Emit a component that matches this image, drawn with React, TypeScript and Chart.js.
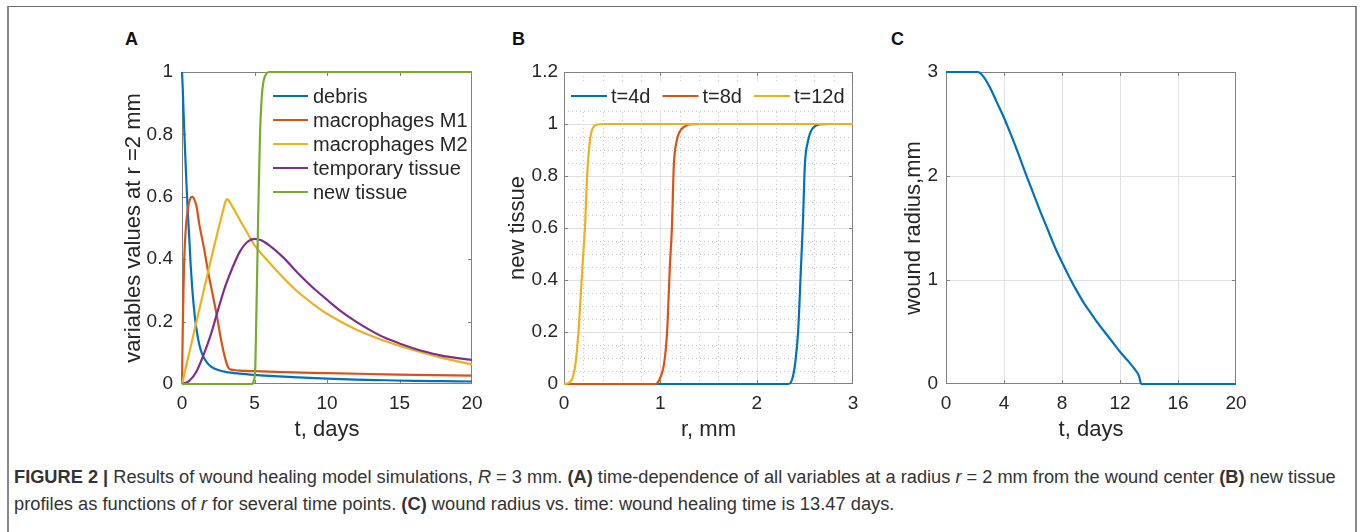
import React, { useEffect, useRef } from 'react';
import { Chart, registerables } from 'chart.js';

Chart.register(...registerables);

const FONT = '"Liberation Sans", Arial, Helvetica, sans-serif';
const TEXT_COLOR = '#262626';
const AXIS_COLOR = '#808080';

const BLUE = '#0072BD';
const ORANGE = '#D95319';
const YELLOW = '#EDB120';
const PURPLE = '#7E2F8E';
const GREEN = '#77AC30';

// ---------- Panel A: variables at r = 2 mm ----------
const A_LABELS = ['debris', 'macrophages M1', 'macrophages M2', 'temporary tissue', 'new tissue'];
const tDebris = [0, 0.05, 0.1, 0.2, 0.3, 0.4, 0.5, 0.6, 0.7, 0.8, 0.9, 1.0, 1.2, 1.4, 1.7, 2.0, 2.5, 3.0, 4.0, 5.0, 6.0, 8.0, 10, 12, 14, 16, 18, 20];
const debris = [1.0, 0.95, 0.88, 0.76, 0.65, 0.55, 0.47, 0.38, 0.31, 0.255, 0.21, 0.175, 0.125, 0.095, 0.07, 0.056, 0.045, 0.039, 0.033, 0.029, 0.026, 0.021, 0.017, 0.014, 0.012, 0.010, 0.009, 0.008];
const tM1 = [0, 0.05, 0.1, 0.15, 0.2, 0.3, 0.4, 0.5, 0.6, 0.7, 0.8, 0.9, 1.0, 1.2, 1.5, 1.8, 2.1, 2.4, 2.7, 3.0, 3.2, 3.4, 3.7, 4, 5, 7, 10, 13, 16, 20];
const m1 = [0, 0.17, 0.3, 0.39, 0.45, 0.52, 0.56, 0.585, 0.597, 0.6, 0.597, 0.585, 0.57, 0.51, 0.44, 0.36, 0.29, 0.22, 0.14, 0.078, 0.052, 0.046, 0.044, 0.043, 0.041, 0.038, 0.035, 0.032, 0.029, 0.027];
const tM2 = [0, 0.5, 1, 1.5, 2, 2.5, 2.8, 3.0, 3.1, 3.2, 3.4, 3.7, 4, 4.5, 5, 6, 7, 8, 9, 10, 12, 14, 16, 18, 20];
const m2 = [0, 0.1, 0.2, 0.3, 0.4, 0.495, 0.55, 0.585, 0.593, 0.59, 0.575, 0.55, 0.525, 0.485, 0.445, 0.39, 0.34, 0.295, 0.258, 0.225, 0.175, 0.138, 0.108, 0.083, 0.063];
const tTemp = [0, 0.5, 1, 1.5, 2, 2.5, 3, 3.5, 4, 4.5, 5, 5.5, 6, 7, 8, 9, 10, 11, 12, 13, 14, 15, 16, 17, 18, 19, 20];
const temp = [0, 0.01, 0.04, 0.095, 0.16, 0.24, 0.315, 0.375, 0.425, 0.455, 0.465, 0.46, 0.445, 0.405, 0.355, 0.31, 0.27, 0.232, 0.2, 0.172, 0.148, 0.13, 0.114, 0.101, 0.09, 0.083, 0.077];
const tNew = [0, 4.8, 4.95, 5.05, 5.12, 5.2, 5.28, 5.38, 5.5, 5.62, 5.8, 6.0, 20];
const newTissue = [0, 0, 0.01, 0.05, 0.2, 0.4, 0.6, 0.8, 0.92, 0.97, 0.993, 1, 1];
const A_X_TICKS = [0, 5, 10, 15, 20];
const A_Y_TICKS = [0, 0.2, 0.4, 0.6, 0.8, 1];

// ---------- Panel B: new tissue profiles ----------
const B_LABELS = ['t=4d', 't=8d', 't=12d'];
const rB4 = [0, 2.33, 2.37, 2.4, 2.43, 2.46, 2.48, 2.5, 2.53, 2.56, 2.6, 2.65, 2.75, 3];
const nB4 = [0, 0, 0.02, 0.08, 0.2, 0.45, 0.62, 0.84, 0.93, 0.97, 0.99, 0.998, 1, 1];
const rB8 = [0, 0.95, 1.0, 1.04, 1.07, 1.1, 1.12, 1.14, 1.17, 1.2, 1.25, 1.3, 1.4, 3];
const nB8 = [0, 0, 0.025, 0.08, 0.2, 0.46, 0.6, 0.84, 0.935, 0.97, 0.99, 0.998, 1, 1];
const rB12 = [0, 0.03, 0.08, 0.12, 0.15, 0.18, 0.2, 0.22, 0.24, 0.27, 0.3, 0.35, 0.42, 3];
const nB12 = [0, 0.002, 0.015, 0.08, 0.2, 0.38, 0.5, 0.62, 0.8, 0.94, 0.985, 0.998, 1, 1];
const B_X_TICKS = [0, 1, 2, 3];
const B_Y_TICKS = [0, 0.2, 0.4, 0.6, 0.8, 1, 1.2];

// ---------- Panel C: wound radius ----------
const tC = [0, 2.2, 2.5, 3, 3.5, 4, 4.5, 5, 5.5, 6, 6.5, 7, 7.5, 8, 8.5, 9, 9.5, 10, 10.5, 11, 11.5, 12, 12.5, 13, 13.3, 13.47, 20];
const radius = [3, 3, 2.97, 2.86, 2.71, 2.56, 2.39, 2.21, 2.02, 1.84, 1.66, 1.49, 1.32, 1.17, 1.03, 0.9, 0.78, 0.68, 0.58, 0.49, 0.4, 0.31, 0.23, 0.145, 0.08, 0, 0];
const C_X_TICKS = [0, 4, 8, 12, 16, 20];
const C_Y_TICKS = [0, 1, 2, 3];

const pts = (xs: number[], ys: number[]) => xs.map((x, i) => ({ x, y: ys[i] }));

const subdivide = (majors: number[], n: number) => {
  const out: number[] = [];
  for (let i = 0; i < majors.length - 1; i++) {
    const a = majors[i], b = majors[i + 1];
    for (let k = 1; k < n; k++) out.push(a + ((b - a) * k) / n);
  }
  return out;
};

function axesPlugin(cfg: { xTicks: number[]; yTicks: number[]; grid?: boolean; minorX?: number[]; minorY?: number[] }) {
  return {
    id: 'mAxes',
    beforeDatasetsDraw(chart: any) {
      const { ctx, chartArea: a, scales } = chart;
      const xs = scales.x, ys = scales.y;
      const L = a.left, R = a.right, T = a.top, B = a.bottom;
      ctx.save();
      ctx.lineWidth = 1;
      const vx = (v: number) => Math.round(xs.getPixelForValue(v)) + 0.5;
      const vy = (v: number) => Math.round(ys.getPixelForValue(v)) + 0.5;
      if (cfg.minorX || cfg.minorY) {
        ctx.strokeStyle = '#c9c9c9';
        ctx.setLineDash([1, 3]);
        (cfg.minorX || []).forEach((v) => {
          const px = vx(v);
          ctx.beginPath(); ctx.moveTo(px, T); ctx.lineTo(px, B); ctx.stroke();
        });
        (cfg.minorY || []).forEach((v) => {
          const py = vy(v);
          ctx.beginPath(); ctx.moveTo(L, py); ctx.lineTo(R, py); ctx.stroke();
        });
      }
      ctx.setLineDash([]);
      if (cfg.grid) {
        ctx.strokeStyle = '#e2e2e2';
        cfg.xTicks.slice(1, -1).forEach((v) => {
          const px = vx(v);
          ctx.beginPath(); ctx.moveTo(px, T); ctx.lineTo(px, B); ctx.stroke();
        });
        cfg.yTicks.slice(1, -1).forEach((v) => {
          const py = vy(v);
          ctx.beginPath(); ctx.moveTo(L, py); ctx.lineTo(R, py); ctx.stroke();
        });
      }
      ctx.strokeStyle = AXIS_COLOR;
      ctx.strokeRect(L + 0.5, T + 0.5, R - L - 1, B - T - 1);
      const tl = 4;
      cfg.xTicks.slice(1, -1).forEach((v) => {
        const px = vx(v);
        ctx.beginPath();
        ctx.moveTo(px, B); ctx.lineTo(px, B - tl);
        ctx.moveTo(px, T); ctx.lineTo(px, T + tl);
        ctx.stroke();
      });
      cfg.yTicks.slice(1, -1).forEach((v) => {
        const py = vy(v);
        ctx.beginPath();
        ctx.moveTo(L, py); ctx.lineTo(L + tl, py);
        ctx.moveTo(R, py); ctx.lineTo(R - tl, py);
        ctx.stroke();
      });
      ctx.restore();
    },
  };
}

function legendPlugin(cfg: { x: number; y: number; size: number; lineLen: number; gap: number; rowH: number; itemGap?: number; horizontal?: boolean }) {
  return {
    id: 'mLegend',
    afterDatasetsDraw(chart: any) {
      const { ctx, chartArea } = chart;
      const ds = chart.data.datasets;
      ctx.save();
      ctx.font = `${cfg.size}px ${FONT}`;
      const widths: number[] = ds.map((d: any) => ctx.measureText(d.label).width);
      const x0 = chartArea.left + cfg.x;
      const y0 = chartArea.top + cfg.y;
      const pos: number[][] = [];
      let cx = x0;
      ds.forEach((_d: any, i: number) => {
        if (cfg.horizontal) {
          pos.push([cx, y0]);
          cx += cfg.lineLen + cfg.gap + widths[i] + (cfg.itemGap || 0);
        } else {
          pos.push([x0, y0 + i * cfg.rowH]);
        }
      });
      const right = cfg.horizontal
        ? cx - (cfg.itemGap || 0)
        : x0 + cfg.lineLen + cfg.gap + Math.max(...widths);
      const bottom = cfg.horizontal ? y0 : y0 + (ds.length - 1) * cfg.rowH;
      const half = cfg.rowH / 2;
      const bgL = x0 - 6;
      const bgR = Math.min(right + 4, chartArea.right - 1);
      ctx.fillStyle = '#ffffff';
      ctx.fillRect(bgL, y0 - half - 2, bgR - bgL, bottom - y0 + 2 * half + 4);
      ds.forEach((d: any, i: number) => {
        const [px, py] = pos[i];
        ctx.strokeStyle = d.borderColor;
        ctx.lineWidth = 2.2;
        ctx.beginPath(); ctx.moveTo(px, py); ctx.lineTo(px + cfg.lineLen, py); ctx.stroke();
        ctx.fillStyle = TEXT_COLOR;
        ctx.textBaseline = 'middle';
        ctx.textAlign = 'left';
        ctx.fillText(d.label, px + cfg.lineLen + cfg.gap, py + 1);
      });
      ctx.restore();
    },
  };
}

type Axis = { min: number; max: number; ticks: number[]; title: string; titlePad: number; tickPad: number; size: number };

function line(label: string, color: string, data: any[], order: number) {
  return {
    label, data, order,
    borderColor: color, backgroundColor: color,
    borderWidth: 2.2, pointRadius: 0, fill: false, clip: 4,
    cubicInterpolationMode: 'monotone',
  };
}

const TICK_SIZE = 19;
const TITLE_SIZE = 22;
const LEGEND_SIZE = 20;

function buildChart(canvas: HTMLCanvasElement, datasets: any[], x: Axis, y: Axis, padRight: number, plugins: any[]) {
  const tickFont = { family: FONT, size: TICK_SIZE };
  const titleFont = { family: FONT, size: TITLE_SIZE };
  return new Chart(canvas, {
    type: 'line',
    data: { datasets },
    options: {
      animation: false,
      responsive: false,
      maintainAspectRatio: false,
      layout: { padding: { top: 22, right: padRight, left: 0, bottom: 0 } },
      plugins: { legend: { display: false }, tooltip: { enabled: false } },
      scales: {
        x: {
          type: 'linear', min: x.min, max: x.max,
          afterBuildTicks: (s: any) => { s.ticks = x.ticks.map((v) => ({ value: v })); },
          afterFit: (s: any) => { s.height = x.size; },
          grid: { display: false, drawTicks: false },
          border: { display: false },
          ticks: { padding: x.tickPad, font: tickFont, color: TEXT_COLOR, autoSkip: false, maxRotation: 0, callback: (v: any) => String(v) },
          title: { display: true, text: x.title, font: titleFont, color: TEXT_COLOR, padding: { top: 0, bottom: x.titlePad } },
        },
        y: {
          type: 'linear', min: y.min, max: y.max,
          afterBuildTicks: (s: any) => { s.ticks = y.ticks.map((v) => ({ value: v })); },
          afterFit: (s: any) => { s.width = y.size; },
          grid: { display: false, drawTicks: false },
          border: { display: false },
          ticks: { padding: y.tickPad, font: tickFont, color: TEXT_COLOR, autoSkip: false, callback: (v: any) => String(v) },
          title: { display: true, text: y.title, font: titleFont, color: TEXT_COLOR, padding: { top: y.titlePad, bottom: 0 } },
        },
      },
    } as any,
    plugins,
  });
}

const CANVAS_TOP = 50;
const CANVAS_H = 410;

export default function App() {
  const refA = useRef<HTMLCanvasElement>(null);
  const refB = useRef<HTMLCanvasElement>(null);
  const refC = useRef<HTMLCanvasElement>(null);
  const cap1 = useRef<HTMLSpanElement>(null);
  const cap2 = useRef<HTMLSpanElement>(null);

  useEffect(() => {
    const colorsA = [BLUE, ORANGE, YELLOW, PURPLE, GREEN];
    const seriesA = [pts(tDebris, debris), pts(tM1, m1), pts(tM2, m2), pts(tTemp, temp), pts(tNew, newTissue)];
    const dsA = seriesA.map((d, i) => line(A_LABELS[i], colorsA[i], d, seriesA.length - i));
    const chartA = buildChart(
      refA.current!, dsA,
      { min: 0, max: 20, ticks: A_X_TICKS, title: 't, days', titlePad: 17, tickPad: 8, size: 76 },
      { min: 0, max: 1, ticks: A_Y_TICKS, title: 'variables values at r =2 mm', titlePad: 31, tickPad: 9, size: 92 },
      20,
      [axesPlugin({ xTicks: A_X_TICKS, yTicks: A_Y_TICKS }), legendPlugin({ x: 91, y: 24, size: LEGEND_SIZE, lineLen: 35, gap: 5, rowH: 24 })],
    );

    const colorsB = [BLUE, ORANGE, YELLOW];
    const seriesB = [pts(rB4, nB4), pts(rB8, nB8), pts(rB12, nB12)];
    const dsB = seriesB.map((d, i) => line(B_LABELS[i], colorsB[i], d, seriesB.length - i));
    const chartB = buildChart(
      refB.current!, dsB,
      { min: 0, max: 3, ticks: B_X_TICKS, title: 'r, mm', titlePad: 17, tickPad: 8, size: 76 },
      { min: 0, max: 1.2, ticks: B_Y_TICKS, title: 'new tissue', titlePad: 25, tickPad: 6, size: 84 },
      20,
      [
        axesPlugin({ xTicks: B_X_TICKS, yTicks: B_Y_TICKS, grid: true, minorX: subdivide(B_X_TICKS, 5), minorY: subdivide(B_Y_TICKS, 4) }),
        legendPlugin({ x: 7, y: 24, size: LEGEND_SIZE, lineLen: 36, gap: 4, rowH: 24, itemGap: 12, horizontal: true }),
      ],
    );

    const chartC = buildChart(
      refC.current!, [line('wound radius', BLUE, pts(tC, radius), 1)],
      { min: 0, max: 20, ticks: C_X_TICKS, title: 't, days', titlePad: 17, tickPad: 8, size: 76 },
      { min: 0, max: 3, ticks: C_Y_TICKS, title: 'wound radius,mm', titlePad: 31, tickPad: 8, size: 76 },
      24,
      [axesPlugin({ xTicks: C_X_TICKS, yTicks: C_Y_TICKS, grid: true })],
    );

    const fit = () => {
      ([[cap1, 1322], [cap2, 880]] as [React.RefObject<HTMLSpanElement>, number][]).forEach(([r, w]) => {
        const el = r.current;
        if (!el) return;
        el.style.transform = `scaleX(${w / el.offsetWidth})`;
      });
    };
    fit();
    if ((document as any).fonts && (document as any).fonts.ready) (document as any).fonts.ready.then(fit);

    return () => {
      chartA.destroy();
      chartB.destroy();
      chartC.destroy();
    };
  }, []);

  const canvasStyle = (left: number, width: number): React.CSSProperties => ({
    position: 'absolute', left, top: CANVAS_TOP, width, height: CANVAS_H,
  });
  const panelLabel = (left: number): React.CSSProperties => ({
    position: 'absolute', left, top: 30, fontFamily: FONT, fontWeight: 'bold', fontSize: 18, lineHeight: '18px', color: '#111',
  });
  const capLine: React.CSSProperties = { display: 'inline-block', whiteSpace: 'nowrap', transformOrigin: 'left center' };

  return (
    <div style={{ position: 'absolute', left: 0, top: 0, width: 1360, height: 532, overflow: 'hidden', background: '#fff' }}>
      <div style={{
        position: 'absolute', left: 7, top: 6, width: 1350, height: 526, boxSizing: 'border-box',
        borderTop: '1px solid #6e6e6e', borderLeft: '2px solid #8a8a8a', borderRight: '2px solid #8a8a8a',
      }} />
      <div style={panelLabel(125)}>A</div>
      <div style={panelLabel(512)}>B</div>
      <div style={panelLabel(891)}>C</div>
      <canvas ref={refA} width={402} height={CANVAS_H} style={canvasStyle(90, 402)} />
      <canvas ref={refB} width={393} height={CANVAS_H} style={canvasStyle(480, 393)} />
      <canvas ref={refC} width={390} height={CANVAS_H} style={canvasStyle(870, 390)} />
      <div style={{ position: 'absolute', left: 14, top: 464, fontFamily: FONT, fontSize: 18, lineHeight: '27px', color: '#333' }}>
        <div style={{ height: 27 }}>
          <span ref={cap1} style={capLine}>
            <b>FIGURE 2 |</b> Results of wound healing model simulations, <i>R</i> = 3 mm. <b>(A)</b> time-dependence of all variables at a radius <i>r</i> = 2 mm from the wound center <b>(B)</b> new tissue
          </span>
        </div>
        <div style={{ height: 27 }}>
          <span ref={cap2} style={capLine}>
            profiles as functions of <i>r</i> for several time points. <b>(C)</b> wound radius vs. time: wound healing time is 13.47 days.
          </span>
        </div>
      </div>
    </div>
  );
}
